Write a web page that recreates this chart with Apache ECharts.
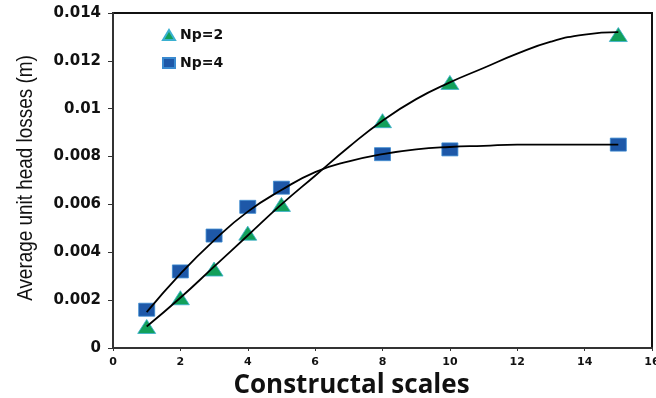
<!DOCTYPE html>
<html>
<head>
<meta charset="utf-8">
<style>
  html, body { margin: 0; padding: 0; background: #fff; }
  #chart { width: 656px; height: 398px; }
</style>
<script src="https://cdn.jsdelivr.net/npm/echarts@6/dist/echarts.min.js"></script>
</head>
<body>
<div id="chart"></div>
<script>
// Constructal scales on the x axis
const scales = [1, 2, 3, 4, 5, 8, 10, 15];
// Measured average unit head losses (m)
const lossNp2 = [0.0009, 0.0021, 0.0033, 0.0048, 0.0060, 0.0095, 0.0111, 0.0131];
const lossNp4 = [0.0016, 0.0032, 0.0047, 0.0059, 0.0067, 0.0081, 0.0083, 0.0085];
// Fitted trend curves, sampled at integer scales
const trendX = [1, 2, 3, 4, 5, 6, 7, 8, 9, 10, 11, 12, 13, 14, 15];
const trendNp2 = [0.0009, 0.0021, 0.0034, 0.0047, 0.0060, 0.0072, 0.0084, 0.0095, 0.0104, 0.0111, 0.0117, 0.0123, 0.0128, 0.0131, 0.0132];
const trendNp4 = [0.0015, 0.0031, 0.0045, 0.0057, 0.0066, 0.00735, 0.0078, 0.0081, 0.0083, 0.0084, 0.00845, 0.0085, 0.0085, 0.0085, 0.0085];
// Axis ticks
const xTicks = { min: 0, max: 16, step: 2 };
const yTicks = { min: 0, max: 0.014, step: 0.002 };
// Axis titles
const xTitle = 'Constructal scales';
const yTitle = 'Average unit head losses (m)';

const pairs = (xs, ys) => xs.map((x, i) => [x, ys[i]]);

const chart = echarts.init(document.getElementById('chart'), null, { renderer: 'canvas' });

chart.setOption({
  animation: false,
  backgroundColor: '#ffffff',
  grid: {
    left: 113, top: 13, right: 4, bottom: 50,
    outerBoundsMode: 'none', containLabel: false,
    show: true, borderColor: '#111', borderWidth: 2, backgroundColor: 'transparent'
  },
  legend: {
    orient: 'vertical',
    left: 157, top: 23,
    itemWidth: 12, itemHeight: 10, itemGap: 14,
    textStyle: { fontFamily: 'DejaVu Sans', fontWeight: 'bold', fontSize: 14, color: '#111' },
    data: [
      { name: 'Np=2', icon: 'triangle' },
      { name: 'Np=4', icon: 'rect' }
    ]
  },
  // vertical axis title, slightly condensed
  graphic: [{
    type: 'text',
    x: 26, y: 178,
    rotation: Math.PI / 2,
    scaleX: 0.86,
    silent: true,
    style: {
      text: yTitle,
      font: '22px "Liberation Sans"',
      fill: '#111',
      align: 'center',
      verticalAlign: 'middle'
    }
  }],
  xAxis: {
    type: 'value',
    min: xTicks.min, max: xTicks.max, interval: xTicks.step,
    name: xTitle,
    nameLocation: 'middle', nameGap: 20,
    nameTextStyle: { fontFamily: 'Open Sans', fontWeight: 'bold', fontSize: 26, color: '#111', verticalAlign: 'top', padding: [0, 62, 0, 0] },
    axisLine: { show: true, lineStyle: { color: '#333', width: 2 } },
    axisTick: { show: true, length: 3, lineStyle: { color: '#333' } },
    axisLabel: { fontFamily: 'DejaVu Sans', fontWeight: 'bold', fontSize: 11, color: '#111', margin: 9, showMaxLabel: true },
    splitLine: { show: false }
  },
  yAxis: {
    type: 'value',
    min: yTicks.min, max: yTicks.max, interval: yTicks.step,
    axisLine: { show: true, lineStyle: { color: '#333', width: 2 } },
    axisTick: { show: true, length: 5, lineStyle: { color: '#333' } },
    axisLabel: { fontFamily: 'DejaVu Sans', fontWeight: 'bold', fontSize: 15, color: '#111', margin: 12 },
    splitLine: { show: false }
  },
  series: [
    {
      name: 'Np=2', type: 'scatter', symbol: 'triangle', symbolSize: [18, 14],
      itemStyle: { color: '#12a05a', borderColor: '#3ab0d0', borderWidth: 0.8, opacity: 1 },
      data: pairs(scales, lossNp2), z: 2
    },
    {
      name: 'Np=4', type: 'scatter', symbol: 'rect', symbolSize: [16, 13],
      itemStyle: { color: '#1e58a8', borderColor: '#3a8ad0', borderWidth: 0.8, opacity: 1 },
      data: pairs(scales, lossNp4), z: 2
    },
    {
      name: 'trend Np=2', type: 'line', smooth: 0.5, symbol: 'none',
      lineStyle: { color: '#000', width: 1.8 },
      data: pairs(trendX, trendNp2), z: 5, silent: true
    },
    {
      name: 'trend Np=4', type: 'line', smooth: 0.5, symbol: 'none',
      lineStyle: { color: '#000', width: 1.8 },
      data: pairs(trendX, trendNp4), z: 5, silent: true
    }
  ]
});
</script>
</body>
</html>
